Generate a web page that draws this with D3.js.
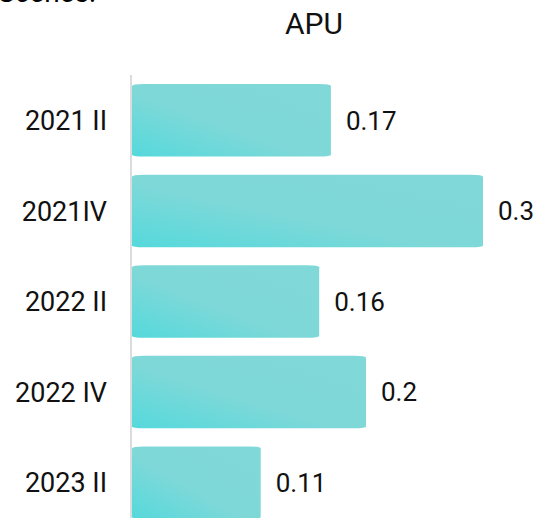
<!DOCTYPE html>
<html>
<head>
<meta charset="utf-8">
<script src="https://cdn.jsdelivr.net/npm/d3@7"></script>
<style>
  body { margin: 0; background: #fff; }
  text { font-family: Roboto, "Noto Sans", sans-serif; }
</style>
</head>
<body>
<div id="chart"></div>
<script>
var categories = ['2021 II', '2021IV', '2022 II', '2022 IV', '2023 II'];
var values = [0.17, 0.3, 0.16, 0.2, 0.11];
var title = 'APU';

var width = 548;
var height = 518;

var svg = d3.select('#chart')
    .append('svg')
    .attr('width', width)
    .attr('height', height);

var defs = svg.append('defs');
var grad = defs.append('linearGradient')
    .attr('id', 'barGrad')
    .attr('x1', 0).attr('y1', 1)
    .attr('x2', 1).attr('y2', 0);
grad.append('stop').attr('offset', '0%').attr('stop-color', '#55d9dc');
grad.append('stop').attr('offset', '45%').attr('stop-color', '#7fd8d8');
grad.append('stop').attr('offset', '100%').attr('stop-color', '#80d8d8');

// text cut off at the top edge (only its lower part shows)
svg.append('text')
    .attr('x', -2)
    .attr('y', 2)
    .attr('font-size', 28)
    .attr('fill', '#000')
    .text('Scenes:');

svg.append('text')
    .attr('x', 314)
    .attr('y', 34)
    .attr('text-anchor', 'middle')
    .attr('font-size', 30)
    .attr('fill', '#111')
    .text(title);

var x = d3.scaleLinear()
    .domain([0, 0.3])
    .range([132, 483]);

var y = d3.scaleBand()
    .domain(categories)
    .range([75, 528])
    .paddingInner(0.2)
    .paddingOuter(0.1);

// axis line
svg.append('line')
    .attr('x1', 131).attr('x2', 131)
    .attr('y1', 75).attr('y2', height)
    .attr('stroke', '#dcdcdc')
    .attr('stroke-width', 2);

function barPath(d, i) {
    var x0 = x(0), x1 = x(d);
    var y0 = y(categories[i]), y1 = y0 + y.bandwidth();
    var r = 12, v = 2;
    return 'M' + x0 + ',' + (y0 + v) +
        'Q' + x0 + ',' + y0 + ' ' + (x0 + r) + ',' + y0 +
        'L' + (x1 - r) + ',' + y0 +
        'Q' + x1 + ',' + y0 + ' ' + x1 + ',' + (y0 + v) +
        'L' + x1 + ',' + (y1 - v) +
        'Q' + x1 + ',' + y1 + ' ' + (x1 - r) + ',' + y1 +
        'L' + (x0 + r) + ',' + y1 +
        'Q' + x0 + ',' + y1 + ' ' + x0 + ',' + (y1 - v) + 'Z';
}

svg.append('g')
    .selectAll('path')
    .data(values)
    .enter()
    .append('path')
    .attr('d', barPath)
    .attr('fill', 'url(#barGrad)');

svg.append('g')
    .selectAll('text')
    .data(values)
    .enter()
    .append('text')
    .attr('x', (d) => x(d) + 15)
    .attr('y', (d, i) => y(categories[i]) + y.bandwidth() / 2)
    .attr('dy', '0.36em')
    .attr('font-size', 26)
    .attr('fill', '#111')
    .text((d) => d);

svg.append('g')
    .selectAll('text')
    .data(categories)
    .enter()
    .append('text')
    .attr('x', 107)
    .attr('y', (d) => y(d) + y.bandwidth() / 2)
    .attr('dy', '0.36em')
    .attr('text-anchor', 'end')
    .attr('font-size', 27)
    .attr('fill', '#111')
    .text((d) => d);
</script>
</body>
</html>
